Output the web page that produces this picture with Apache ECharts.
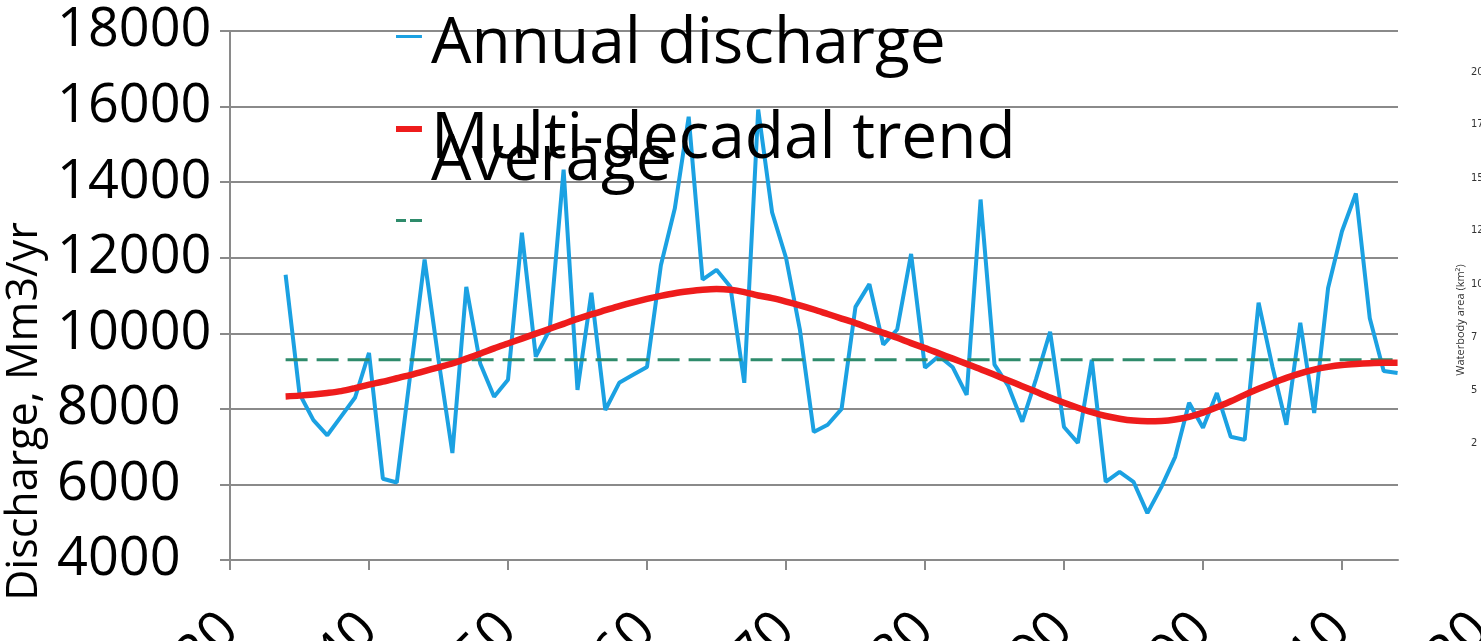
<!DOCTYPE html>
<html><head><meta charset="utf-8">
<script src="https://cdn.jsdelivr.net/npm/echarts@6/dist/echarts.min.js"></script>
<style>html,body{margin:0;padding:0;background:#fff}#c{width:1481px;height:641px}</style>
</head><body><div id="c"></div>
<script>
const years = [1934,1935,1936,1937,1938,1939,1940,1941,1942,1943,
  1944,1945,1946,1947,1948,1949,1950,1951,1952,1953,
  1954,1955,1956,1957,1958,1959,1960,1961,1962,1963,
  1964,1965,1966,1967,1968,1969,1970,1971,1972,1973,
  1974,1975,1976,1977,1978,1979,1980,1981,1982,1983,
  1984,1985,1986,1987,1988,1989,1990,1991,1992,1993,
  1994,1995,1996,1997,1998,1999,2000,2001,2002,2003,
  2004,2005,2006,2007,2008,2009,2010,2011,2012,2013,
  2014];
const annualDischarge = [11550,8400,7700,7300,7800,8300,9480,6150,6050,9000,
  11950,9300,6830,11230,9200,8320,8770,12660,9380,10100,
  14330,8500,11070,7970,8690,8900,9110,11800,13300,15730,
  11420,11680,11230,8690,15920,13200,12000,10100,7390,7580,
  8000,10700,11300,9700,10100,12100,9090,9400,9100,8370,
  13540,9170,8600,7660,8800,10040,7520,7100,9300,6070,
  6330,6070,5240,5930,6730,8160,7500,8420,7260,7180,
  10810,9110,7580,10280,7890,11200,12700,13700,10400,9000,
  8950];
const multiDecadalTrend = [8330,8350,8380,8420,8470,8550,8640,8720,8810,8900,
  9000,9100,9200,9330,9460,9600,9730,9860,9990,10120,
  10250,10380,10500,10610,10720,10820,10910,10990,11060,11110,
  11150,11170,11150,11090,11000,10930,10840,10740,10630,10510,
  10390,10270,10140,10010,9880,9740,9610,9470,9330,9190,
  9050,8900,8750,8600,8450,8300,8160,8030,7910,7810,
  7740,7690,7670,7680,7720,7790,7900,8040,8200,8370,
  8530,8680,8820,8940,9040,9110,9160,9190,9210,9220,
  9220];
const averageDischarge = 9300;
const xTickYears = [1930,1940,1950,1960,1970,1980,1990,2000,2010];
const extraXLabel = '2020';
const seriesNames = ['Annual discharge','Multi-decadal trend','Average'];
const rightPanelTicks = ['20','17','15','12','10','7','5','2'];
const rightPanelTitle = 'Waterbody area (km²)';

const FONT = '"Open Sans", sans-serif';
const AXIS = '#8a8a8a';
const BLUE = '#1ba1e2', RED = '#ee1c1c', GREEN = '#2e8b6b';
const LABEL_MARGIN = 62;

const chart = echarts.init(document.getElementById('c'), null, {renderer:'canvas'});
const legendText = {fontSize:64, color:'#000', fontFamily:FONT, lineHeight:64, padding:[0,0,0,4]};

const graphics = [
  {type:'text', x:1481, y:560+LABEL_MARGIN, rotation:Math.PI/4,
   style:{text:extraXLabel, align:'right', verticalAlign:'middle', font:'54px "Open Sans", sans-serif', fill:'#000'}},
  {type:'text', x:1461, y:320, rotation:Math.PI/2,
   style:{text:rightPanelTitle, align:'center', verticalAlign:'middle', font:'11px "Open Sans", sans-serif', fill:'#333'}}
];
const rightTickY = [72,124,178,230,284,337,390,443];
rightPanelTicks.forEach((t,i)=>graphics.push({type:'text', x:1471, y:rightTickY[i],
  style:{text:t, align:'left', verticalAlign:'middle', font:'11px "DejaVu Sans Condensed", sans-serif', fill:'#333'}}));

chart.setOption({
  animation:false,
  backgroundColor:'#fff',
  grid:{left:230, top:31, width:1168, height:529, containLabel:false, outerBoundsMode:'none'},
  legend:[
    {data:[seriesNames[0]], left:391, top:8, itemWidth:26, itemHeight:20,
     icon:'path://M0,0h26v3h-26z M0,20h0.05v0.05h-0.05z',
     textStyle:legendText, selectedMode:false},
    {data:[seriesNames[1]], left:391, top:103, itemWidth:26, itemHeight:28,
     icon:'path://M0,0h26v6h-26z M0,28h0.05v0.05h-0.05z',
     textStyle:legendText, selectedMode:false},
    {data:[seriesNames[2]], left:391, top:96, itemWidth:26, itemHeight:121,
     icon:'path://M0,0h0.05v0.05h-0.05z M0,118h10v3h-10z M14,118h12v3h-12z',
     textStyle:legendText, selectedMode:false}
  ],
  xAxis:{type:'value', min:1930, max:2014.03, interval:10,
    axisLine:{show:true, onZero:false, lineStyle:{color:AXIS, width:2}},
    axisTick:{show:true, length:10, lineStyle:{color:AXIS, width:2}, customValues:xTickYears},
    axisLabel:{customValues:xTickYears, rotate:45, margin:LABEL_MARGIN, fontSize:54, color:'#000', fontFamily:FONT,
      formatter:v=>String(v)},
    splitLine:{show:false}},
  yAxis:{type:'value', min:4000, max:18000, interval:2000,
    name:'Discharge, Mm3/yr', nameLocation:'middle', nameGap:142,
    nameTextStyle:{fontSize:43, color:'#000', fontFamily:FONT, padding:[0,232,0,0]},
    axisLine:{show:true, lineStyle:{color:AXIS, width:2}},
    axisTick:{show:true, length:10, lineStyle:{color:AXIS, width:2}},
    axisLabel:{align:'left', verticalAlign:'middle', margin:173, fontSize:54, lineHeight:54, color:'#000', fontFamily:FONT,
      padding:[12,0,0,0], formatter:v=>String(v)},
    splitLine:{lineStyle:{color:AXIS, width:2}}},
  series:[
    {name:seriesNames[0], type:'line', data:years.map((y,i)=>[y, annualDischarge[i]]), showSymbol:false,
     lineStyle:{color:BLUE, width:4}, itemStyle:{color:BLUE}, z:2},
    {name:seriesNames[2], type:'line', data:[[years[0], averageDischarge],[years[years.length-1], averageDischarge]],
     showSymbol:false, lineStyle:{color:GREEN, width:3, type:[22,9]}, itemStyle:{color:GREEN}, z:3},
    {name:seriesNames[1], type:'line', smooth:0.3, data:years.map((y,i)=>[y, multiDecadalTrend[i]]), showSymbol:false,
     lineStyle:{color:RED, width:6.5}, itemStyle:{color:RED}, z:4}
  ],
  graphic:graphics
});
</script></body></html>
